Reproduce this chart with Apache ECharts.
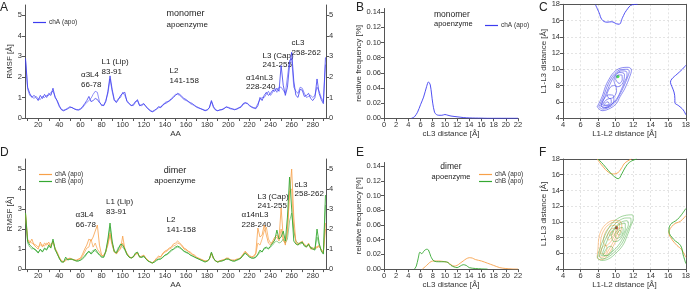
<!DOCTYPE html>
<html>
<head>
<meta charset="utf-8">
<script src="https://cdn.jsdelivr.net/npm/echarts@6/dist/echarts.min.js"></script>
<style>
html, body { margin: 0; padding: 0; background: #fff; }
#chart { width: 693px; height: 290px; }
</style>
</head>
<body>
<div id="chart"></div>
<script>
// residue numbers (every 2nd residue)
const res = [8,10,12,14,16,18,
  20,22,24,26,28, 30,32,34,36,38, 40,42,44,46,48, 50,52,54,56,58, 60,62,64,66,68,
  70,72,74,76,78, 80,82,84,86,88, 90,92,94,96,98, 100,102,104,106,108, 110,112,114,116,118,
  120,122,124,126,128, 130,132,134,136,138, 140,142,144,146,148, 150,152,154,156,158,
  160,162,164,166,168, 170,172,174,176,178, 180,182,184,186,188, 190,192,194,196,198,
  200,202,204,206,208, 210,212,214,216,218, 220,222,224,226,228, 230,232,234,236,238,
  240,242,244,246,248, 250,252,254,256,258, 260,262,264,266,268, 270,272,274,276,278,
  280,282,284,286,288, 290,292];

// monomer RMSF, two runs
const monoA1 = [2.9,1.5,1.2,1.0,1.1,1.0,
  0.85,1.1,0.95,1.15,1.0, 1.2,1.1,1.45,1.0,0.85, 0.6,0.4,0.35,0.4,0.45, 0.55,0.5,0.45,0.4,0.4, 0.45,0.55,0.7,0.85,1.05,
  0.8,0.85,0.95,0.9,0.75, 0.65,0.6,0.8,1.3,2.05, 1.4,0.9,0.75,0.9,1.1, 1.2,1.25,0.8,0.7,0.6, 0.65,0.8,0.85,0.6,0.65,
  0.7,0.55,0.45,0.35,0.3, 0.35,0.45,0.55,0.5,0.65, 0.7,0.75,0.85,0.9,1.0, 1.1,1.2,1.15,1.05,0.95,
  0.9,0.8,0.75,0.7,0.6, 0.55,0.5,0.45,0.4,0.35, 0.4,0.5,0.85,0.55,0.4, 0.35,0.4,0.4,0.45,0.55,
  0.5,0.45,0.45,0.4,0.45, 0.5,0.55,0.7,0.75,0.7, 0.6,0.55,0.5,0.45,0.6, 1.0,0.85,1.1,1.25,1.1,
  1.2,1.35,1.3,1.45,1.3, 2.55,1.6,1.1,1.5,2.6, 3.2,1.8,1.1,1.0,1.4, 1.35,1.05,1.1,1.2,0.95,
  0.85,1.0,1.9,1.2,0.9, 0.7,2.95];
const monoA2 = [2.8,1.4,1.1,1.05,0.95,1.05,
  0.95,0.9,1.05,1.0,1.1, 1.1,1.25,1.3,1.05,0.8, 0.55,0.42,0.38,0.42,0.48, 0.5,0.52,0.45,0.42,0.38, 0.42,0.5,0.65,0.75,0.85,
  0.95,1.15,1.3,1.25,0.8, 0.6,0.62,0.85,1.2,1.9, 1.3,0.85,0.8,0.95,1.0, 1.25,1.1,0.85,0.72,0.62, 0.6,0.75,0.9,0.62,0.6,
  0.68,0.58,0.45,0.38,0.32, 0.38,0.42,0.5,0.55,0.6, 0.75,0.8,0.8,0.95,1.05, 1.15,1.15,1.1,1.0,0.9,
  0.85,0.82,0.7,0.65,0.62, 0.52,0.48,0.45,0.42,0.38, 0.38,0.48,0.8,0.5,0.38, 0.36,0.38,0.42,0.48,0.52,
  0.52,0.48,0.42,0.42,0.42, 0.48,0.52,0.65,0.72,0.72, 0.62,0.52,0.48,0.5,0.7, 0.9,1.0,1.0,1.15,1.3,
  1.1,1.25,1.45,1.25,1.5, 1.5,1.35,1.2,2.0,2.8, 2.9,1.5,1.3,1.2,1.5, 1.45,1.2,1.0,1.05,1.1,
  1.0,1.1,1.5,1.3,1.0, 0.8,2.6];

// dimer RMSF, chain A (two runs)
const dimA1 = [2.8,1.5,1.3,1.5,1.2,1.1,
  1.0,1.35,1.1,1.3,1.2, 1.35,1.1,1.4,1.0,0.8, 0.55,0.4,0.35,0.45,0.5, 0.55,0.5,0.45,0.45,0.5, 0.55,0.75,1.0,1.2,1.5,
  1.4,1.6,1.9,2.2,1.2, 0.7,0.65,0.9,1.3,1.8, 1.3,0.9,0.75,0.9,1.0, 1.65,1.0,0.8,0.65,0.55, 0.6,0.75,0.8,0.6,0.65,
  0.7,0.55,0.45,0.35,0.3, 0.4,0.55,0.65,0.6,0.8, 0.9,0.95,1.05,1.1,1.25, 1.3,1.4,1.3,1.2,1.05,
  1.0,0.9,0.85,0.75,0.7, 0.6,0.55,0.5,0.45,0.4, 0.4,0.5,0.8,0.55,0.4, 0.35,0.4,0.45,0.45,0.55,
  0.55,0.45,0.45,0.45,0.5, 0.5,0.6,0.75,0.9,0.75, 0.65,0.6,0.65,0.8,2.05, 1.6,1.7,2.2,1.7,1.3,
  1.2,1.4,1.6,1.7,1.5, 3.05,1.6,1.2,2.0,3.8, 5.0,2.6,1.3,1.2,1.3, 1.4,1.2,1.1,1.3,1.0,
  1.0,1.1,1.05,1.2,0.95, 0.8,2.3];
const dimA2 = [2.7,1.4,1.4,1.3,1.25,1.2,
  1.1,1.2,1.2,1.15,1.3, 1.2,1.25,1.35,1.05,0.85, 0.6,0.42,0.38,0.42,0.52, 0.52,0.48,0.48,0.42,0.48, 0.5,0.65,0.85,1.05,1.1,
  1.5,1.1,1.3,1.0,0.85, 0.65,0.7,0.85,1.2,1.7, 1.2,0.85,0.8,0.95,1.05, 1.3,1.05,0.75,0.6,0.58, 0.62,0.7,0.82,0.62,0.6,
  0.68,0.52,0.42,0.36,0.32, 0.42,0.5,0.6,0.62,0.75, 0.85,0.9,1.0,1.05,1.15, 1.2,1.3,1.25,1.15,1.0,
  0.95,0.88,0.8,0.72,0.66, 0.58,0.52,0.48,0.44,0.4, 0.42,0.5,0.78,0.52,0.42, 0.38,0.42,0.44,0.48,0.52,
  0.52,0.47,0.44,0.44,0.48, 0.52,0.58,0.7,0.85,0.78, 0.68,0.62,0.6,0.75,1.3, 1.2,1.5,1.9,2.1,1.5,
  1.3,1.3,1.5,1.6,1.4, 2.0,1.4,1.3,1.8,3.9, 4.0,2.0,1.4,1.25,1.35, 1.3,1.25,1.15,1.2,1.1,
  1.05,1.0,1.15,1.1,1.0, 0.85,2.0];

// dimer RMSF, chain B (two runs)
const dimB1 = [2.8,1.4,1.2,1.1,1.0,0.95,
  0.8,1.0,0.85,1.05,0.95, 1.2,1.05,1.5,1.0,0.75, 0.55,0.35,0.35,0.6,0.45, 0.5,0.5,0.45,0.4,0.4, 0.45,0.55,0.65,0.8,0.9,
  0.75,0.85,1.0,0.85,0.7, 0.6,0.6,0.9,1.5,2.3, 1.4,0.9,0.8,1.0,1.25, 1.2,1.0,0.75,0.6,0.55, 0.6,0.8,0.85,0.6,0.6,
  0.65,0.5,0.4,0.35,0.3, 0.35,0.45,0.5,0.5,0.6, 0.7,0.75,0.85,0.95,1.0, 1.1,1.15,1.1,1.0,0.9,
  0.85,0.8,0.7,0.65,0.6, 0.55,0.5,0.45,0.4,0.35, 0.4,0.5,0.85,0.55,0.4, 0.35,0.4,0.4,0.45,0.5,
  0.5,0.45,0.4,0.4,0.45, 0.5,0.55,0.7,0.8,0.7, 0.6,0.55,0.55,0.6,0.75, 0.95,0.85,1.05,1.1,1.0,
  1.15,1.3,1.45,1.95,1.5, 1.6,1.9,1.4,2.6,4.6, 3.0,1.4,1.25,1.2,1.3, 1.35,1.15,1.1,1.25,1.05,
  1.0,0.95,2.0,1.3,0.9, 0.75,3.7];
const dimB2 = [2.6,1.3,1.1,1.0,1.05,0.9,
  0.85,0.95,0.9,1.0,1.0, 1.1,1.15,1.4,0.95,0.8, 0.5,0.38,0.36,0.5,0.48, 0.48,0.48,0.44,0.42,0.42, 0.44,0.5,0.6,0.75,0.85,
  0.8,0.95,0.9,0.8,0.72, 0.62,0.58,0.85,1.4,2.1, 1.3,0.85,0.85,1.1,1.2, 1.1,0.95,0.72,0.6,0.56, 0.62,0.75,0.8,0.62,0.58,
  0.62,0.52,0.42,0.36,0.32, 0.36,0.42,0.48,0.52,0.58, 0.68,0.72,0.8,0.9,0.98, 1.05,1.1,1.05,0.98,0.88,
  0.82,0.78,0.72,0.66,0.6, 0.54,0.5,0.46,0.42,0.38, 0.4,0.48,0.8,0.52,0.4, 0.36,0.38,0.42,0.44,0.5,
  0.5,0.44,0.42,0.4,0.44, 0.48,0.55,0.68,0.78,0.72, 0.62,0.56,0.54,0.58,0.7, 0.85,0.9,1.0,1.05,1.05,
  1.1,1.2,1.35,1.4,1.3, 1.35,1.5,1.3,1.5,2.4, 2.8,1.9,1.4,1.3,1.25, 1.3,1.2,1.15,1.2,1.1,
  1.05,1.0,1.6,1.2,0.95, 0.8,3.2];

// cL3 distance histograms
const monoDistX = [4.5,5,5.5,6,6.5,7,7.3,7.6,8,8.3,8.6,9,9.5,10,10.5,11,12,13,14,15,16,17,22];
const monoDistY = [0,0.002,0.008,0.018,0.028,0.042,0.048,0.044,0.02,0.008,0.005,0.004,0.004,0.005,0.004,0.003,0.002,0.001,0.0005,0.0003,0.0002,0,0];
const dimDistAX = [6.3,7,7.5,8,9,10,10.5,11,11.5,12,12.5,13,13.5,14,14.5,15,16,17,18,19,20,21,22];
const dimDistAY = [0,0.005,0.009,0.011,0.011,0.01,0.009,0.006,0.004,0.005,0.008,0.011,0.014,0.0155,0.015,0.013,0.011,0.008,0.005,0.002,0.0008,0.0002,0];
const dimDistBX = [5,5.3,5.6,5.9,6.2,6.6,7,7.3,7.7,8.2,9,10,10.5,11,11.5,12,12.5,13,13.5,14,15,16,17];
const dimDistBY = [0,0.004,0.014,0.023,0.021,0.025,0.027,0.026,0.017,0.011,0.01,0.01,0.009,0.005,0.003,0.002,0.004,0.006,0.005,0.002,0.0008,0.0003,0];

// L1-L2 / L1-L3 contour lines
const monoRings = [
  [[7.9,5.39],[8.45,6.62],[8.83,7.85],[9.2,8.68],[9.76,9.58],[10.5,10.12],[11.43,10.24],[11.8,9.9],[11.6,9.08],[11.06,7.66],[10.5,6.62],[10.1,5.81],[9.39,5.2],[8.45,4.9],[7.9,5.39]],
  [[8.1,5.4],[8.6,6.6],[9.0,7.8],[9.4,8.7],[9.9,9.45],[10.6,9.95],[11.3,10.0],[11.55,9.75],[11.35,9.0],[10.85,7.7],[10.35,6.65],[9.95,5.95],[9.3,5.35],[8.5,5.1],[8.1,5.4]],
  [[8.3,5.45],[8.8,6.7],[9.25,7.9],[9.65,8.8],[10.1,9.45],[10.7,9.8],[11.2,9.75],[11.3,9.3],[11.0,8.4],[10.6,7.4],[10.2,6.5],[9.6,5.75],[8.9,5.3],[8.3,5.45]],
  [[9.8,8.6],[10.05,9.35],[10.5,9.6],[11.0,9.4],[10.95,8.7],[10.6,8.0],[10.15,7.85],[9.8,8.6]],
  [[10.0,8.75],[10.3,9.3],[10.7,9.3],[10.75,8.7],[10.4,8.25],[10.0,8.75]],
  [[9.0,6.9],[9.4,7.8],[9.9,8.0],[10.1,7.4],[9.8,6.6],[9.3,6.4],[9.0,6.9]],
  [[8.35,5.55],[8.65,6.3],[9.2,6.85],[9.75,6.75],[9.8,6.1],[9.2,5.45],[8.6,5.25],[8.35,5.55]],
  [[8.5,5.6],[8.9,6.2],[9.4,6.4],[9.5,5.95],[9.0,5.5],[8.5,5.6]],
  [[8.7,5.7],[9.1,6.0],[9.25,5.75],[8.85,5.58],[8.7,5.7]]
];
const monoTop = [[7.7,17.95],[8.1,17.0],[8.45,16.1],[9.0,15.8],[9.55,15.85],[10.1,15.6],[10.4,15.55],[10.8,16.4],[11.2,17.2],[11.9,17.95],[12.5,18]];
const monoRight = [[18,10.5],[17.6,10.0],[17.0,9.4],[16.4,8.8],[16.25,8.4],[16.4,7.9],[16.65,7.2],[16.75,6.4],[16.75,5.9],[17.2,5.5],[17.7,5.0],[18,4.4]];
const monoRef = [[10.24,9.1]];

const dimRingsB = [
  [[7.9,5.4],[8.2,6.6],[8.6,7.8],[9.0,8.8],[9.5,9.7],[10.2,10.4],[11.0,10.8],[11.9,10.9],[12.0,10.4],[11.7,9.4],[11.3,8.2],[10.8,7.0],[10.0,6.0],[9.2,5.3],[8.4,5.1],[7.9,5.4]],
  [[8.15,5.55],[8.45,6.7],[8.85,7.85],[9.3,8.8],[9.8,9.6],[10.45,10.2],[11.2,10.5],[11.7,10.5],[11.75,10.0],[11.45,9.1],[11.05,8.0],[10.55,7.0],[9.85,6.15],[9.1,5.5],[8.5,5.3],[8.15,5.55]],
  [[8.4,5.7],[8.75,6.8],[9.15,7.9],[9.6,8.8],[10.1,9.5],[10.7,10.0],[11.3,10.15],[11.45,9.7],[11.2,8.9],[10.8,7.9],[10.3,7.0],[9.7,6.3],[9.0,5.7],[8.4,5.7]],
  [[9.5,8.3],[9.9,9.1],[10.5,9.7],[11.1,9.8],[11.1,9.2],[10.8,8.3],[10.3,7.6],[9.8,7.5],[9.5,8.3]],
  [[9.9,8.4],[10.3,9.1],[10.8,9.3],[10.85,8.8],[10.5,8.1],[10.1,7.9],[9.9,8.4]],
  [[10.2,8.5],[10.5,8.95],[10.65,8.7],[10.4,8.3],[10.2,8.5]],
  [[8.6,5.8],[8.9,6.5],[9.4,6.9],[9.7,6.6],[9.3,6.0],[8.8,5.7],[8.6,5.8]]
];
const dimRingsA = [
  [[7.9,5.6],[8.0,6.8],[8.1,8.0],[8.4,9.0],[9.0,9.8],[9.8,10.2],[10.5,10.1],[10.7,9.5],[10.5,8.6],[10.0,7.5],[9.4,6.3],[8.8,5.4],[8.2,5.2],[7.9,5.6]],
  [[8.15,5.8],[8.25,6.9],[8.35,8.0],[8.65,8.9],[9.15,9.6],[9.85,9.95],[10.35,9.85],[10.45,9.3],[10.2,8.5],[9.75,7.5],[9.2,6.4],[8.7,5.6],[8.3,5.5],[8.15,5.8]],
  [[8.6,7.4],[8.7,8.3],[9.1,9.1],[9.7,9.55],[10.2,9.45],[10.2,8.9],[9.8,8.1],[9.3,7.3],[8.9,7.0],[8.6,7.4]],
  [[9.0,8.0],[9.3,8.9],[9.8,9.2],[10.0,8.8],[9.6,8.1],[9.2,7.7],[9.0,8.0]],
  [[9.3,8.3],[9.5,8.8],[9.75,8.8],[9.6,8.35],[9.3,8.3]],
  [[8.3,6.0],[8.5,6.8],[8.9,7.0],[9.0,6.5],[8.6,5.9],[8.3,6.0]]
];
const dimTopB = [[8.0,18],[8.6,17.3],[9.2,16.5],[9.76,15.85],[10.3,15.5],[10.7,16.1],[11.06,16.86],[11.6,17.6],[12.4,18]];
const dimTopA = [[7.9,18],[8.5,17.1],[9.2,16.3],[9.76,16.1],[10.3,16.3],[10.7,16.9],[11.06,17.5],[11.8,18]];
const dimRightB = [[18,11.7],[17.5,10.9],[17.0,10.27],[16.25,9.65],[16.07,8.84],[16.6,7.8],[17.4,7.0],[17.7,5.8],[18,4.7]];
const dimRightA = [[18,10.8],[17.4,10.1],[16.6,9.65],[16.07,8.6],[16.4,7.8],[17.0,7.0],[17.5,6.5],[18,5.5]];
const dimRef = [[10.1,9.25]];

// axis ticks
const aaTicks = [10,20,30,40,50,60,70,80,90,100,110,120,130,140,150,160,170,180,190,200,210,220,230,240,250,260,270,280,290];
const aaLabels = [20,40,60,80,100,120,140,160,180,200,220,240,260,280];
const rmsfLabels = [0,1,2,3,4,5];
const freqLabels = [0,0.02,0.04,0.06,0.08,0.1,0.12,0.14];

const BLUE = '#3c3cf0', ORANGE = '#f7a048', GREEN = '#35a832';
const FONT = 'Liberation Sans';
const axisCol = '#555';

const pairs = (xs, ys) => xs.map((x, i) => [x, ys[i]]);

function valAxis(o) {
  return Object.assign({
    type: 'value',
    axisLine: { show: true, lineStyle: { color: axisCol, width: 1 } },
    axisTick: { show: true, length: 3, lineStyle: { color: axisCol } },
    axisLabel: { fontSize: 7.5, color: '#333', margin: 3, fontFamily: FONT },
    splitLine: { show: false },
    nameTextStyle: { fontSize: 8, color: '#333', fontFamily: FONT },
    nameLocation: 'middle'
  }, o);
}
const dash = { show: true, lineStyle: { color: '#ddd', type: [2, 2], width: 0.8 } };

const chart = echarts.init(document.getElementById('chart'));

const grids = [
  { left: 25, top: 5, width: 301, height: 113 },      // A
  { left: 384, top: 8.5, width: 134, height: 109.8 }, // B
  { left: 563, top: 4.3, width: 126, height: 113.7 }, // C
  { left: 25, top: 159, width: 301, height: 113.3 },  // D
  { left: 384, top: 162.5, width: 134, height: 110.2 },// E
  { left: 563, top: 159, width: 126, height: 114 }    // F
];

const xAxes = [
  valAxis({ gridIndex: 0, min: 7.5, max: 292.5, name: 'AA', nameGap: 12,
    axisTick: { length: 3, customValues: aaTicks, lineStyle: { color: axisCol } },
    axisLabel: { customValues: aaLabels, fontSize: 7.5, color: '#333', margin: 3 } }),
  valAxis({ gridIndex: 1, min: 0, max: 22, interval: 2, name: 'cL3 distance [Å]', nameGap: 10 }),
  valAxis({ gridIndex: 2, min: 4, max: 18, interval: 2, name: 'L1-L2 distance [Å]', nameGap: 10, splitLine: dash }),
  valAxis({ gridIndex: 2, min: 4, max: 18, position: 'top', axisTick: { show: false }, axisLabel: { show: false } }),
  valAxis({ gridIndex: 3, min: 7.5, max: 292.5, name: 'AA', nameGap: 9,
    axisTick: { length: 3, customValues: aaTicks, lineStyle: { color: axisCol } },
    axisLabel: { customValues: aaLabels, fontSize: 7.5, color: '#333', margin: 3 } }),
  valAxis({ gridIndex: 4, min: 0, max: 22, interval: 2, name: 'cL3 distance [Å]', nameGap: 9 }),
  valAxis({ gridIndex: 5, min: 4, max: 18, interval: 2, name: 'L1-L2 distance [Å]', nameGap: 9, splitLine: dash }),
  valAxis({ gridIndex: 5, min: 4, max: 18, position: 'top', axisTick: { show: false }, axisLabel: { show: false } })
];

function rmsfAxis(g, pos, named) {
  return valAxis({ gridIndex: g, min: 0, max: 5.5, position: pos,
    name: named ? 'RMSF [Å]' : '', nameGap: 10,
    axisTick: { length: 3, customValues: rmsfLabels, lineStyle: { color: axisCol } },
    axisLabel: { customValues: rmsfLabels, fontSize: 7.5, color: '#333', margin: 3 } });
}
function freqAxis(g) {
  return valAxis({ gridIndex: g, min: 0, max: 0.145, name: 'relative frequency [%]', nameGap: 19,
    axisTick: { length: 3, customValues: freqLabels, lineStyle: { color: axisCol } },
    axisLabel: { customValues: freqLabels, fontSize: 7.5, color: '#333', margin: 3,
      formatter: v => v.toFixed(2) } });
}

const yAxes = [
  rmsfAxis(0, 'left', true),   // 0
  rmsfAxis(0, 'right', false), // 1
  freqAxis(1),                 // 2
  valAxis({ gridIndex: 2, min: 4, max: 18, interval: 2, name: 'L1-L3 distance [Å]', nameGap: 13, splitLine: dash }), // 3
  valAxis({ gridIndex: 2, min: 4, max: 18, position: 'right', axisTick: { show: false }, axisLabel: { show: false } }), // 4
  rmsfAxis(3, 'left', true),   // 5
  rmsfAxis(3, 'right', false), // 6
  freqAxis(4),                 // 7
  valAxis({ gridIndex: 5, min: 4, max: 18, interval: 2, name: 'L1-L3 distance [Å]', nameGap: 13, splitLine: dash }), // 8
  valAxis({ gridIndex: 5, min: 4, max: 18, position: 'right', axisTick: { show: false }, axisLabel: { show: false } })  // 9
];

function line(name, x, y, data, color, w, extra) {
  return Object.assign({
    name: name, type: 'line', xAxisIndex: x, yAxisIndex: y, data: data,
    symbol: 'none', silent: true, animation: false,
    lineStyle: { color: color, width: w }, itemStyle: { color: color }
  }, extra || {});
}

const series = [
  line('A|chA (apo) 2', 0, 0, pairs(res, monoA2), BLUE, 0.7, { lineStyle: { color: BLUE, width: 0.7, opacity: 0.8 } }),
  line('A|chA (apo)', 0, 0, pairs(res, monoA1), BLUE, 0.8),
  line('B|chA (apo)', 1, 2, pairs(monoDistX, monoDistY), BLUE, 0.9, { smooth: 0.3 }),
  line('D|chA (apo) 2', 4, 5, pairs(res, dimA2), ORANGE, 0.7),
  line('D|chB (apo) 2', 4, 5, pairs(res, dimB2), GREEN, 0.7, { lineStyle: { color: GREEN, width: 0.7, opacity: 0.75 } }),
  line('D|chA (apo)', 4, 5, pairs(res, dimA1), ORANGE, 0.8),
  line('D|chB (apo)', 4, 5, pairs(res, dimB1), GREEN, 0.9),
  line('E|chA (apo)', 5, 7, pairs(dimDistAX, dimDistAY), ORANGE, 0.9, { smooth: 0.3 }),
  line('E|chB (apo)', 5, 7, pairs(dimDistBX, dimDistBY), GREEN, 0.9, { smooth: 0.3 })
];

monoRings.forEach((r, i) => series.push(line('Cring' + i, 2, 3, r, '#4848ea', 0.7, { smooth: 0.4, lineStyle: { color: '#4848ea', width: 0.7, opacity: 0.9 } })));
series.push(line('Ctop', 2, 3, monoTop, BLUE, 0.9, { smooth: 0.4 }));
series.push(line('Cright', 2, 3, monoRight, BLUE, 0.9, { smooth: 0.4 }));
series.push({ type: 'scatter', xAxisIndex: 2, yAxisIndex: 3, data: monoRef, symbolSize: 3.5, itemStyle: { color: '#22dd22' }, silent: true, animation: false });

dimRingsA.forEach((r, i) => series.push(line('FringA' + i, 6, 8, r, ORANGE, 0.7, { smooth: 0.4, lineStyle: { color: ORANGE, width: 0.7, opacity: 0.8 } })));
dimRingsB.forEach((r, i) => series.push(line('FringB' + i, 6, 8, r, GREEN, 0.7, { smooth: 0.4, lineStyle: { color: '#4caf45', width: 0.7, opacity: 0.75 } })));
series.push(line('FtopA', 6, 8, dimTopA, ORANGE, 0.9, { smooth: 0.4 }));
series.push(line('FtopB', 6, 8, dimTopB, GREEN, 0.9, { smooth: 0.4 }));
series.push(line('FrightA', 6, 8, dimRightA, ORANGE, 0.9, { smooth: 0.4 }));
series.push(line('FrightB', 6, 8, dimRightB, GREEN, 0.9, { smooth: 0.4 }));
series.push({ type: 'scatter', xAxisIndex: 6, yAxisIndex: 8, data: dimRef, symbolSize: 3.5, itemStyle: { color: '#8b1a1a' }, silent: true, animation: false });

function leg(names, left, top) {
  return { data: names, left: left, top: top, orient: 'vertical', itemGap: 0,
    icon: 'rect', itemWidth: 13, itemHeight: 1.2, selectedMode: false,
    formatter: n => n.split('|')[1],
    textStyle: { fontSize: 6.5, color: '#333', fontFamily: FONT, padding: [0, 0, 0, -2] } };
}

// text labels
function txt(s, x, y, size, align) {
  return { type: 'text', x: x, y: y, silent: true,
    style: { text: s, fontSize: size, fontFamily: FONT, fill: '#222', lineHeight: size + 1.3, align: align || 'left' } };
}
const graphics = [
  txt('A', 0, 1, 12), txt('B', 356, 1, 12), txt('C', 539, 1, 12),
  txt('D', 0, 146, 12), txt('E', 356, 146, 12), txt('F', 539, 146, 12),
  txt('monomer', 166.5, 8.8, 9), txt('apoenzyme', 166.5, 20, 8),
  txt('monomer', 434, 9.5, 8.5), txt('apoenzyme', 434, 19.5, 7.5),
  txt('dimer', 175, 165.5, 9, 'center'), txt('apoenzyme', 175, 176, 8, 'center'),
  txt('dimer', 451, 161.5, 8.5, 'center'), txt('apoenzyme', 451, 172.7, 7.5, 'center'),
  txt('α3L4\n66-78', 81, 70.5, 8), txt('L1 (Lip)\n83-91', 101.5, 57.5, 8),
  txt('L2\n141-158', 169.5, 66.5, 8), txt('α14nL3\n228-240', 246, 73, 8),
  txt('L3 (Cap)\n241-255', 262.5, 51, 8), txt('cL3\n258-262', 291.5, 38.5, 8),
  txt('α3L4\n66-78', 75.5, 210.5, 8), txt('L1 (Lip)\n83-91', 106, 197.5, 8),
  txt('L2\n141-158', 166.5, 215.5, 8), txt('α14nL3\n228-240', 241.5, 210.5, 8),
  txt('L3 (Cap)\n241-255', 257.5, 192, 8), txt('cL3\n258-262', 294.5, 180, 8)
];

chart.setOption({
  animation: false,
  textStyle: { fontFamily: FONT },
  grid: grids,
  xAxis: xAxes,
  yAxis: yAxes,
  legend: [
    leg(['A|chA (apo)'], 28, 14),
    leg(['B|chA (apo)'], 480, 17),
    leg(['D|chA (apo)', 'D|chB (apo)'], 34, 166),
    leg(['E|chA (apo)', 'E|chB (apo)'], 474, 166)
  ],
  series: series,
  graphic: graphics
});
</script>
</body>
</html>
